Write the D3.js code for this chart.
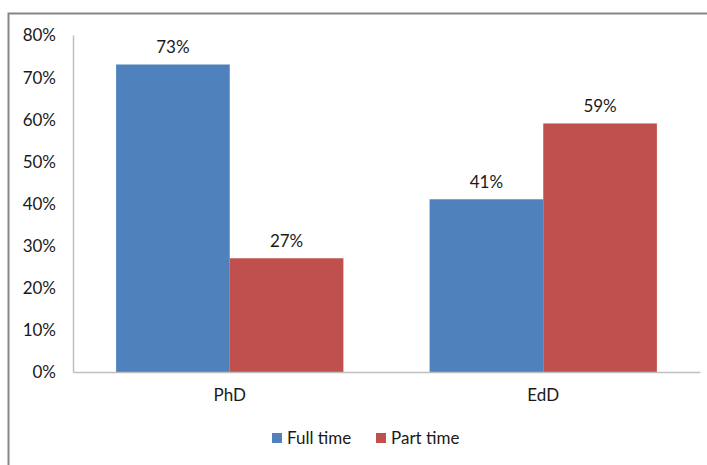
<!DOCTYPE html>
<html>
<head>
<meta charset="utf-8">
<script src="https://cdn.jsdelivr.net/npm/d3@7"></script>
<style>
  body { margin: 0; background: #fff; }
  text { font-family: Lato, "Open Sans", sans-serif; fill: #1a1a1a; }
</style>
</head>
<body>
<svg id="chart" width="707" height="465"></svg>
<script>
// chart data
const categories = ['PhD', 'EdD'];
const seriesNames = ['Full time', 'Part time'];
const fullTime = [73, 41];
const partTime = [27, 59];
const yTicks = [0, 10, 20, 30, 40, 50, 60, 70, 80];
const colors = ['#4F81BD', '#C0504D'];

const series = [fullTime, partTime];
const fontSize = '17px';

const svg = d3.select('#chart');

// outer frame, cut off at right and bottom like the original
svg.append('rect')
    .attr('x', 8.5).attr('y', 13.5)
    .attr('width', 720).attr('height', 470)
    .attr('fill', 'none')
    .attr('stroke', '#868686')
    .attr('stroke-width', 2);

const plot = { left: 73, right: 700, top: 35, bottom: 372 };

const x0 = d3.scaleBand()
    .domain(categories)
    .range([plot.left, plot.right])
    .paddingInner(0.275)
    .paddingOuter(0.1375);

const x1 = d3.scaleBand()
    .domain(d3.range(seriesNames.length))
    .range([0, x0.bandwidth()]);

const y = d3.scaleLinear()
    .domain([0, 80])
    .range([plot.bottom, plot.top]);

// bars
const groups = svg.selectAll('.cat')
    .data(categories)
    .enter()
    .append('g')
    .attr('class', 'cat')
    .attr('transform', d => `translate(${x0(d)},0)`);

groups.selectAll('rect')
    .data((d, i) => series.map((s, k) => ({ k: k, v: s[i] })))
    .enter()
    .append('rect')
    .attr('x', d => x1(d.k))
    .attr('y', d => y(d.v))
    .attr('width', x1.bandwidth())
    .attr('height', d => y(0) - y(d.v))
    .attr('fill', d => colors[d.k]);

groups.selectAll('.val')
    .data((d, i) => series.map((s, k) => ({ k: k, v: s[i] })))
    .enter()
    .append('text')
    .attr('class', 'val')
    .attr('x', d => x1(d.k) + x1.bandwidth() / 2)
    .attr('y', d => y(d.v) - 11)
    .attr('text-anchor', 'middle')
    .style('font-size', fontSize)
    .text(d => d.v + '%');

// y axis
const yAxis = d3.axisLeft(y)
    .tickValues(yTicks)
    .tickSize(0)
    .tickPadding(17)
    .tickFormat(d => d + '%');

const gy = svg.append('g')
    .attr('transform', `translate(${plot.left},0)`)
    .call(yAxis);
gy.select('.domain').attr('stroke', '#BFBFBF').attr('stroke-width', 1.5);
gy.selectAll('text').style('font-size', fontSize).attr('dy', '0.35em');

// x axis
const xAxis = d3.axisBottom(x0).tickSize(0).tickPadding(17);
const gx = svg.append('g')
    .attr('transform', `translate(0,${plot.bottom})`)
    .call(xAxis);
gx.select('.domain').attr('stroke', '#BFBFBF').attr('stroke-width', 1.5);
gx.selectAll('text').style('font-size', fontSize);

// legend
const legendX = [272, 376];
const legend = svg.selectAll('.legend')
    .data(seriesNames)
    .enter()
    .append('g')
    .attr('class', 'legend')
    .attr('transform', (d, i) => `translate(${legendX[i]}, 433)`);

legend.append('rect')
    .attr('width', 10).attr('height', 10)
    .attr('fill', (d, i) => colors[i]);

legend.append('text')
    .attr('x', 15)
    .attr('y', 11)
    .style('font-size', fontSize)
    .text(d => d);
</script>
</body>
</html>
